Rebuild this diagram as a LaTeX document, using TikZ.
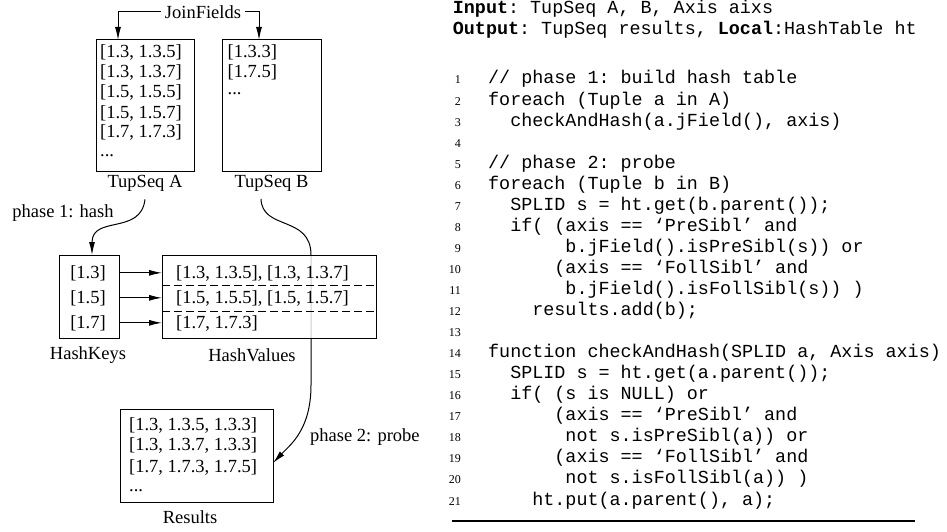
\documentclass[tikz,border=0pt]{standalone}
\usepackage{fontspec}
\setmainfont{Liberation Serif}
\setmonofont{Liberation Mono}
\usetikzlibrary{arrows.meta,calc,backgrounds}
\newcommand\myCodeLine[3]{%
  \node[lnum] (n#1) at ({461},{84+21.05*(#1-1)}) {#1};
  \node[code] (c#1) at ({488+11.04*#2},{84+21.05*(#1-1)}) {#3};}
\newcommand\myNumOnly[1]{%
  \node[lnum] (n#1) at ({461},{84+21.05*(#1-1)}) {#1};}
\begin{document}
\begin{tikzpicture}[x=1pt,y=-1pt,
  box/.style={draw,line width=1pt,inner sep=0pt,outer sep=0pt},
  txt/.style={font=\fontsize{18.5}{20}\selectfont,inner sep=0pt},
  row/.style={txt,anchor=base west},
  lbl/.style={txt,anchor=center},
  conn/.style={line width=1pt,-{Latex[length=13pt,width=6pt]}},
  lnum/.style={font=\fontsize{12}{12}\selectfont,anchor=base east,inner sep=0pt},
  code/.style={font=\ttfamily\fontsize{18.4}{21}\selectfont,anchor=base west,inner sep=0pt},
  sepline/.style={line width=1pt,dash pattern=on 8pt off 4pt}]
\useasboundingbox (0,0) rectangle (947,532);

% boxes
\node[box,minimum width=98pt,minimum height=131pt] (boxA) at (145,105.5) {};
\node[box,minimum width=99pt,minimum height=131pt] (boxB) at (271.5,105.5) {};
\node[box,minimum width=60pt,minimum height=83pt] (keys) at (89,296.5) {};
\node[box,minimum width=153pt,minimum height=93pt] (res) at (196.5,455.5) {};

% box A content
\node[row] (a1) at (100,58) {[1.3, 1.3.5]};
\node[row] (a2) at (100,78) {[1.3, 1.3.7]};
\node[row] (a3) at (100,98) {[1.5, 1.5.5]};
\node[row] (a4) at (100,118) {[1.5, 1.5.7]};
\node[row] (a5) at (100,138) {[1.7, 1.7.3]};
\node[row] (a6) at (100,157) {...};
% box B content
\node[row] (b1) at (227.5,58) {[1.3.3]};
\node[row] (b2) at (227.5,78) {[1.7.5]};
\node[row] (b3) at (227.5,95) {...};

% labels
\node[txt,inner sep=4pt] (join) at (203,12) {JoinFields};
\node[lbl] (lA) at (145,183) {TupSeq A};
\node[lbl] (lB) at (271.5,183.5) {TupSeq B};
\node[lbl] (ph1) at (63,213) {phase 1: hash};
\node[lbl] (lKeys) at (88,355) {HashKeys};
\node[lbl] (lVals) at (252,355) {HashValues};
\node[txt,anchor=west] (ph2) at (310,437) {phase 2: probe};
\node[lbl] (lRes) at (190,517) {Results};

% results content
\node[row] (r1) at (129,430) {[1.3, 1.3.5, 1.3.3]};
\node[row] (r2) at (129,450.5) {[1.3, 1.3.7, 1.3.3]};
\node[row] (r3) at (129,472) {[1.7, 1.7.3, 1.7.5]};
\node[row] (r4) at (129,491) {...};

% hash values box (semi-opaque, over the probe line)
\node[box,fill=white,fill opacity=0.8,minimum width=214pt,minimum height=83pt] (vals) at (269,296.5) {};
\draw[sepline] ($(vals.north west)+(0,30)$) -- ($(vals.north east)+(0,30)$);
\draw[sepline] ($(vals.north west)+(0,56)$) -- ($(vals.north east)+(0,56)$);

% keys and values rows
\node[txt,anchor=base] (k1) at (88,278) {[1.3]};
\node[txt,anchor=base] (k2) at (88,303) {[1.5]};
\node[txt,anchor=base] (k3) at (88,328) {[1.7]};
\node[row] (v1) at (176,278) {[1.3, 1.3.5], [1.3, 1.3.7]};
\node[row] (v2) at (176,303) {[1.5, 1.5.5], [1.5, 1.5.7]};
\node[row] (v3) at (176,328) {[1.7, 1.7.3]};

% connectors
\draw[conn] (join.west) -| ([xshift=-27pt]boxA.north);
\draw[conn] (join.east) -| ([xshift=-12.5pt]boxB.north);
\draw[conn] ([yshift=-8pt]lA.south) .. controls +(-4,36) and +(0,-40) .. ([xshift=3pt]keys.north);
\draw[conn] (k1.east -| keys.east) -- (k1.east -| vals.west);
\draw[conn] (k2.east -| keys.east) -- (k2.east -| vals.west);
\draw[conn] (k3.east -| keys.east) -- (k3.east -| vals.west);

\coordinate (probeTop) at ($(vals.north)+(42,0)$);
\coordinate (probeBot) at ($(vals.south)+(42,47)$);
\begin{scope}[on background layer]
\draw[conn] ([xshift=-10.5pt,yshift=-7pt]lB.south) .. controls +(1,32) and +(0,-40) .. (probeTop)
  -- (probeBot) .. controls +(0,45) and +(17,-18) .. ([yshift=-7.5pt]res.east);
\end{scope}

% algorithm
\node[code] (inp) at (452.7,14) {\textbf{Input}: TupSeq A, B, Axis aixs};
\node[code] (outp) at (452.7,35) {\textbf{Output}: TupSeq results, \textbf{Local}:HashTable ht};
\myCodeLine{1}{0}{// phase 1: build hash table}
\myCodeLine{2}{0}{foreach (Tuple a in A)}
\myCodeLine{3}{2}{checkAndHash(a.jField(), axis)}
\myNumOnly{4}
\myCodeLine{5}{0}{// phase 2: probe}
\myCodeLine{6}{0}{foreach (Tuple b in B)}
\myCodeLine{7}{2}{SPLID s = ht.get(b.parent());}
\myCodeLine{8}{2}{if( (axis == ‘PreSibl’ and}
\myCodeLine{9}{7}{b.jField().isPreSibl(s)) or}
\myCodeLine{10}{6}{(axis == ‘FollSibl’ and}
\myCodeLine{11}{7}{b.jField().isFollSibl(s)) )}
\myCodeLine{12}{4}{results.add(b);}
\myNumOnly{13}
\myCodeLine{14}{0}{function checkAndHash(SPLID a, Axis axis)}
\myCodeLine{15}{2}{SPLID s = ht.get(a.parent());}
\myCodeLine{16}{2}{if( (s is NULL) or}
\myCodeLine{17}{6}{(axis == ‘PreSibl’ and}
\myCodeLine{18}{7}{not s.isPreSibl(a)) or}
\myCodeLine{19}{6}{(axis == ‘FollSibl’ and}
\myCodeLine{20}{7}{not s.isFollSibl(a)) )}
\myCodeLine{21}{4}{ht.put(a.parent(), a);}
\coordinate (ruleL) at (452,521);
\coordinate (ruleR) at (915,521);
\draw[line width=2pt] (ruleL) -- (ruleR);
\end{tikzpicture}
\end{document}
